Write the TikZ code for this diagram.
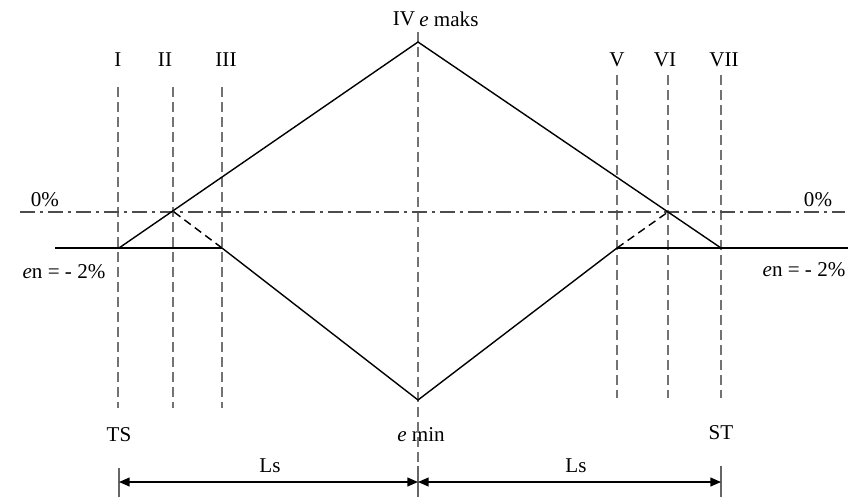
\documentclass[tikz,border=0pt]{standalone}
\usepackage{fontspec}
\setmainfont{Liberation Serif}
\usetikzlibrary{arrows.meta}

\begin{document}
\begin{tikzpicture}[
    x=0.02cm, y=-0.02cm,
    guide/.style={draw=black!55, line width=0.7pt, dash pattern=on 2mm off 1mm},
    road/.style={line width=0.8pt},
    hint/.style={line width=0.8pt, dash pattern=on 1.6mm off 1mm},
    axisline/.style={draw=black!70, line width=0.6pt,
                     dash pattern=on 3mm off 1mm on 0.6mm off 1mm},
    dim/.style={{Triangle[length=6pt,width=5pt]}-{Triangle[length=6pt,width=5pt]},
                line width=0.8pt},
    tick/.style={draw=black!60, line width=0.8pt},
    lbl/.style={font=\fontsize{12}{14}\selectfont, inner sep=1pt},
]
    \useasboundingbox (0,0) rectangle (864,497);

    % key points of the cross slope
    \coordinate (top) at (418,42);
    \coordinate (bot) at (418,400);
    \coordinate (ts) at (119,248);
    \coordinate (st) at (721,248);
    \coordinate (lo1) at (222,248);
    \coordinate (lo2) at (617,248);
    \coordinate (cr1) at (174,212);
    \coordinate (cr2) at (668,212);
    \coordinate (enl) at (55,248);
    \coordinate (enr) at (848,248);
    \coordinate (zl) at (20,212);
    \coordinate (zr) at (845,212);

    % section labels
    \node[lbl] (sI) at (118,60) {I};
    \node[lbl] (sII) at (165,60) {II};
    \node[lbl] (sIII) at (226,60) {III};
    \node[lbl] (sIV) at (404,19) {IV};
    \node[lbl, anchor=west] (emaks) at (sIV.east) {\textit{e} maks};
    \node[lbl] (sV) at (617,60) {V};
    \node[lbl] (sVI) at (665,60) {VI};
    \node[lbl] (sVII) at (724,60) {VII};
    \node[lbl] (zeroL) at (45,200) {0\%};
    \node[lbl] (zeroR) at (818,200) {0\%};
    \node[lbl] (enL) at (64,272) {\textit{e}n = - 2\%};
    \node[lbl] (enR) at (804,270) {\textit{e}n = - 2\%};
    \node[lbl] (TS) at (119,435) {TS};
    \node[lbl] (emin) at (421,435) {\textit{e} min};
    \node[lbl] (ST) at (721,433) {ST};
    \node[lbl] (Ls1) at (270,466) {Ls};
    \node[lbl] (Ls2) at (576,466) {Ls};

    % stations
    \draw[guide] (118,87) -- (118,408);
    \draw[guide] (173,87) -- (173,408);
    \draw[guide] (222,87) -- (222,408);
    \draw[guide] (617,75) -- (617,398);
    \draw[guide] (668,75) -- (668,398);
    \draw[guide] (721,75) -- (721,398);
    \draw[guide] (418,32) -- (418,470);

    \draw[axisline] (zl) -- (zr);
    \draw[road] (enl) -- (lo1);
    \draw[road] (lo2) -- (enr);

    % outer and inner edge
    \draw[road] (ts) -- (top) -- (st);
    \draw[road] (lo1) -- (bot) -- (lo2);
    \draw[hint] (cr1) -- (lo1);
    \draw[hint] (lo2) -- (cr2);

    % lengths
    \coordinate (d0) at (119,482);
    \coordinate (d1) at (418,482);
    \coordinate (d2) at (721,482);
    \draw[tick] (119,468) -- (119,497);
    \draw[tick] (418,466) -- (418,497);
    \draw[tick] (721,466) -- (721,497);
    \draw[dim] (d0) -- (d1);
    \draw[dim] (d1) -- (d2);
\end{tikzpicture}
\end{document}
